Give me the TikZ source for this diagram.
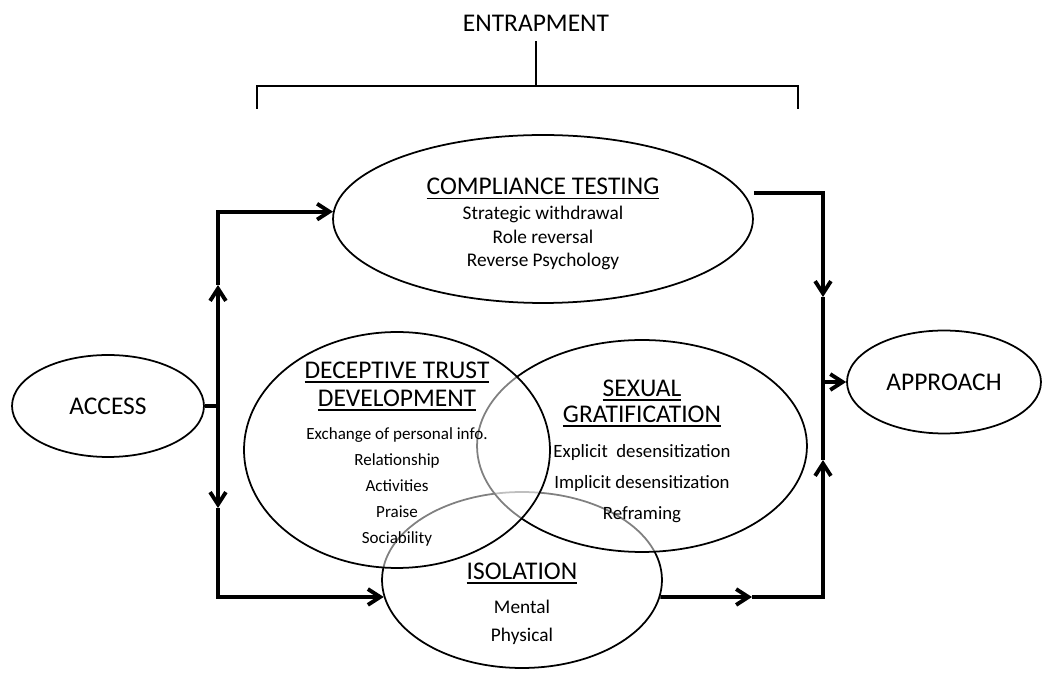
\documentclass[tikz,border=0pt]{standalone}
\usepackage{fontspec}
\setmainfont{Carlito}
\usetikzlibrary{shapes.geometric,arrows.meta}
\tikzset{
  oval/.style={draw, ellipse, line width=1pt, inner sep=0pt},
  caps/.style={font=\fontsize{14.5}{17}\selectfont},
  flow/.style={line width=2.2pt, -{Straight Barb[length=7pt,width=9pt]}},
  link/.style={line width=2.2pt},
  veil/.style={fill=white, fill opacity=0.5},
}
\newsavebox{\hdbox}
\newcommand{\hd}[1]{{\fontsize{14.5}{17}\selectfont\sbox{\hdbox}{#1}\rlap{\rule[-2.6pt]{\wd\hdbox}{1pt}}\usebox{\hdbox}}}

\begin{document}
\begin{tikzpicture}[x=0.02cm, y=-0.02cm]
\useasboundingbox (0,0) rectangle (1046,675);
% heading and bracket
\node[caps] (entrap) at (536,23) {ENTRAPMENT};
\coordinate (bl) at (257,109);
\coordinate (br) at (798,109);
\coordinate (bm) at (536,86);
\draw[line width=1.7pt] (bl) -- (bl |- bm) -- (br |- bm) -- (br);
\draw[line width=1.7pt] (bm) -- ([yshift=-2pt]entrap.south);
% ovals
\node[oval, minimum width=8.4cm, minimum height=3.36cm] (comp) at (543,219) {};
\node[oval, minimum width=5.6cm, minimum height=3.52cm] (iso) at (522,580) {};
\node[oval, veil, minimum width=6.6cm, minimum height=4.24cm] (sg) at (642,446) {};
\node[oval, veil, minimum width=6.12cm, minimum height=4.72cm] (dtd) at (397,450) {};
\node[oval, caps, minimum width=3.84cm, minimum height=2.04cm] (access) at (108,406) {ACCESS};
\node[oval, caps, minimum width=3.88cm, minimum height=2.06cm] (appr) at (944,382) {APPROACH};
% texts inside the ovals
\node[align=center, font=\fontsize{11}{13.3}\selectfont] (comptxt) at (543,224)
  {\hd{COMPLIANCE TESTING}\\[0.9pt]Strategic withdrawal\\Role reversal\\Reverse Psychology};
\node[align=center, font=\fontsize{9.7}{14.7}\selectfont] (dtdtxt) at (397,454)
  {\hd{DECEPTIVE TRUST}\\[1.2pt]\hd{DEVELOPMENT}\\[4.3pt]Exchange of personal info.\\Relationship\\Activities\\Praise\\Sociability};
\node[align=center, font=\fontsize{10.7}{17.6}\selectfont] (sgtxt) at (642,451)
  {\hd{SEXUAL}\\[-2.9pt]\hd{GRATIFICATION}\\[2.4pt]Explicit~ desensitization\\Implicit desensitization\\Reframing};
\node[align=center, font=\fontsize{11}{15.9}\selectfont] (isotxt) at (522,604)
  {\hd{ISOLATION}\\[3.7pt]Mental\\Physical};
% left side
\coordinate (split) at (218,406);
\coordinate (uptip) at (218,285);
\coordinate (dntip) at (218,508);
\draw[link] (access.east) -- (split);
\draw[flow] (split) -- (uptip);
\draw[flow] (uptip) |- (comp.178);
\draw[flow] (split) -- (dntip);
\draw[flow] (dntip) |- (iso.187);
% right side
\coordinate (rdtip) at (823,297);
\coordinate (rutip) at (823,460);
\coordinate (rmid) at (823,382);
\coordinate (botmid) at (752,597);
\draw[flow] ([yshift=0.52cm]comp.east) -| (rdtip);
\draw[link] (rdtip) -- (rutip);
\draw[flow] (rmid) -- (appr.west);
\draw[flow] (iso.-7) -- (botmid);
\draw[flow] (botmid) -| (rutip);
\end{tikzpicture}
\end{document}
